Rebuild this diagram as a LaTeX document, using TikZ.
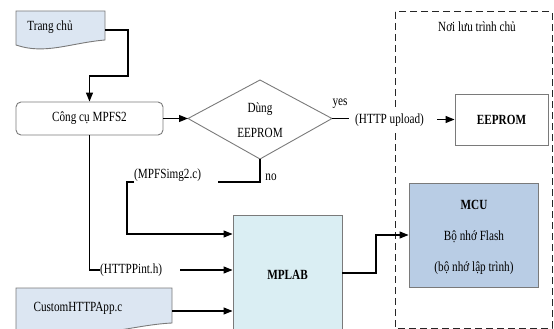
\documentclass[tikz,border=0pt]{standalone}
\usepackage{fontspec}
\setmainfont[FakeStretch=0.8]{Liberation Serif}
\usetikzlibrary{arrows.meta}
\definecolor{boxgray}{HTML}{7A7A7A}
\definecolor{docblue}{HTML}{DCE6F2}
\definecolor{mplabfill}{HTML}{DAEEF3}
\definecolor{mcufill}{HTML}{B9CDE5}
\begin{document}
\begin{tikzpicture}[x=1pt,y=-1pt,
  every node/.style={font=\rmfamily\fontsize{14}{16}\selectfont, inner sep=0pt},
  box/.style={draw=boxgray, line width=0.9pt},
  conn/.style={line width=1.1pt, draw=black},
  arr/.style={conn, -{Triangle[length=9pt,width=7pt]}},
  bold/.style={font=\rmfamily\fontsize{14}{16}\selectfont\bfseries}
]
\useasboundingbox (0,0) rectangle (554,329);

% dashed region
\draw[line width=1pt, draw=black!85, dash pattern=on 7pt off 4pt] (395,12) rectangle (552,328);
\node (noi) at (477,27) {Nơi lưu trình chủ};

% Trang chu document
\draw[box, fill=docblue] (16,11) -- (105,11) -- (105,40)
  .. controls (70,43) and (45,55) .. (16,45) -- cycle;
\node (trang) at (50,27) {Trang chủ};
\coordinate (trangR) at (105,30);

% CustomHTTPApp document
\draw[box, fill=docblue] (16,288) -- (172,288) -- (172,323)
  .. controls (130,325) and (90,342) .. (16,333) -- cycle;
\node (custom) at (78,308) {CustomHTTPApp.c};
\coordinate (customR) at (172,311);

% Cong cu MPFS2
\node[box, rounded corners=5pt, minimum width=147pt, minimum height=33pt] (cong) at (89.5,118.5) {Công cụ MPFS2};

% diamond
\coordinate (dl) at (188,118.5);
\coordinate (dt) at (260,80);
\coordinate (dr) at (332,118.5);
\coordinate (db) at (260,159);
\draw[box] (dl) -- (dt) -- (dr) -- (db) -- cycle;
\node (dung) at (260,109) {Dùng};
\node (eep) at (260,133) {EEPROM};

% EEPROM box
\node[box, bold, minimum width=93pt, minimum height=51pt] (eeprom) at (501.5,119.5) {EEPROM};

% MPLAB box
\node[box, fill=mplabfill, minimum width=109pt, minimum height=118pt] (mplab) at (287.5,274) {};
\node[bold] (mplabt) at (287.5,275) {MPLAB};

% MCU box
\node[box, fill=mcufill, minimum width=129pt, minimum height=104pt] (mcu) at (473.5,235) {};
\node[bold] (mcut) at (474,205) {MCU};
\node (flash) at (474,237) {Bộ nhớ Flash};
\node (prog) at (474,268) {(bộ nhớ lập trình)};

% labels
\node (yes) at (340,104) {yes};
\node[anchor=west, fill=white, inner ysep=3pt, inner xsep=1pt] (http) at (354,120) {(HTTP upload)};
\node (no) at (271,177) {no};
\node[anchor=west] (mpfs) at (134,175) {(MPFSimg2.c)};
\node[anchor=west] (httph) at (100,270) {(HTTPPint.h)};

% connectors
\draw[arr] (trangR) -- (128,30) -- (128,76) -- (89.5,76) -- (cong.north);
\draw[arr] (cong.east) -- (dl);
\draw[conn] (dr) -- (349,118.5);
\draw[arr] (437,119.5) -- (eeprom.west);
\draw[conn] (db) -- (260,182) -- (218,182);
\draw[arr] (134,182) -- (127,182) -- (127,234) -- (mplab.west |- 127,234);
\draw[conn] (cong.south) -- (89.5,270) -- (httph.west);
\draw[arr] (180,270) -- (mplab.west |- 180,270);
\draw[arr] (customR) -- (mplab.west |- customR);
\draw[arr] (mplab.east |- 342,273) -- (376,273) -- (376,235) -- (mcu.west);
\end{tikzpicture}
\end{document}
